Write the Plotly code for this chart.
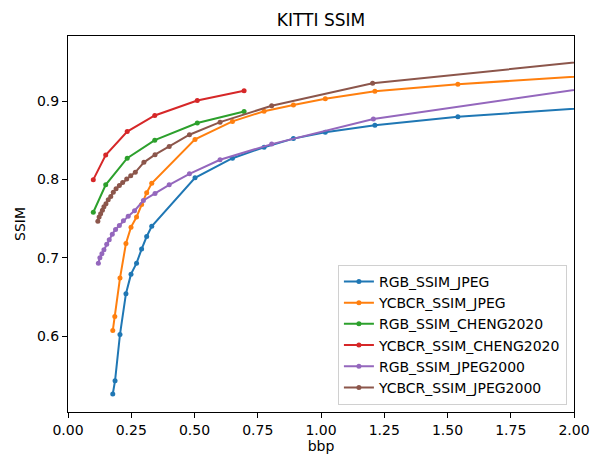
import plotly.graph_objects as go

# ---- data ----
rgb_jpeg_bbp = [0.177, 0.186, 0.2055, 0.229, 0.249, 0.271, 0.291, 0.311, 0.331, 0.502, 0.650, 0.775, 0.891, 1.017, 1.213, 1.541, 2.300]
rgb_jpeg_ssim = [0.526, 0.543, 0.602, 0.654, 0.679, 0.693, 0.711, 0.727, 0.740, 0.802, 0.827, 0.841, 0.852, 0.860, 0.869, 0.880, 0.8965]

ycbcr_jpeg_bbp = [0.177, 0.185, 0.2055, 0.229, 0.249, 0.271, 0.291, 0.311, 0.331, 0.502, 0.650, 0.775, 0.891, 1.017, 1.213, 1.541, 2.300]
ycbcr_jpeg_ssim = [0.607, 0.625, 0.674, 0.718, 0.739, 0.752, 0.768, 0.783, 0.795, 0.851, 0.874, 0.8870, 0.895, 0.903, 0.9126, 0.9215, 0.937]

rgb_cheng_bbp = [0.100, 0.149, 0.234, 0.343, 0.511, 0.696]
rgb_cheng_ssim = [0.758, 0.793, 0.827, 0.850, 0.872, 0.8866]

ycbcr_cheng_bbp = [0.100, 0.149, 0.234, 0.343, 0.511, 0.696]
ycbcr_cheng_ssim = [0.7996, 0.831, 0.861, 0.8815, 0.9006, 0.913]

rgb_j2k_bbp = [0.120, 0.126, 0.134, 0.142, 0.153, 0.163, 0.175, 0.188, 0.203, 0.219, 0.238, 0.263, 0.298, 0.344, 0.400, 0.480, 0.601, 0.805, 1.207, 2.400]
rgb_j2k_ssim = [0.693, 0.700, 0.705, 0.710, 0.717, 0.723, 0.730, 0.736, 0.741, 0.747, 0.753, 0.760, 0.773, 0.782, 0.793, 0.807, 0.825, 0.845, 0.877, 0.9327]

ycbcr_j2k_bbp = [0.118, 0.123, 0.129, 0.136, 0.142, 0.150, 0.159, 0.169, 0.179, 0.190, 0.203, 0.216, 0.232, 0.248, 0.266, 0.300, 0.344, 0.400, 0.480, 0.601, 0.805, 1.204, 2.400]
ycbcr_j2k_ssim = [0.7465, 0.752, 0.756, 0.7605, 0.765, 0.769, 0.774, 0.778, 0.7834, 0.788, 0.792, 0.796, 0.8005, 0.8047, 0.809, 0.8217, 0.8315, 0.842, 0.857, 0.873, 0.894, 0.9228, 0.9622]

series_names = ["RGB_SSIM_JPEG", "YCBCR_SSIM_JPEG", "RGB_SSIM_CHENG2020",
                "YCBCR_SSIM_CHENG2020", "RGB_SSIM_JPEG2000", "YCBCR_SSIM_JPEG2000"]
colors = ["#1f77b4", "#ff7f0e", "#2ca02c", "#d62728", "#9467bd", "#8c564b"]

x_ticks = [0.0, 0.25, 0.5, 0.75, 1.0, 1.25, 1.5, 1.75, 2.0]
x_tick_labels = ["0.00", "0.25", "0.50", "0.75", "1.00", "1.25", "1.50", "1.75", "2.00"]
y_ticks = [0.6, 0.7, 0.8, 0.9]
y_tick_labels = ["0.6", "0.7", "0.8", "0.9"]

series = [
    (rgb_jpeg_bbp, rgb_jpeg_ssim),
    (ycbcr_jpeg_bbp, ycbcr_jpeg_ssim),
    (rgb_cheng_bbp, rgb_cheng_ssim),
    (ycbcr_cheng_bbp, ycbcr_cheng_ssim),
    (rgb_j2k_bbp, rgb_j2k_ssim),
    (ycbcr_j2k_bbp, ycbcr_j2k_ssim),
]

FONT = "DejaVu Sans"

fig = go.Figure()
for i, ((xs, ys), name, c) in enumerate(zip(series, series_names, colors)):
    fig.add_trace(go.Scatter(
        x=xs, y=ys, name=name, mode="lines+markers",
        line=dict(color=c, width=2),
        marker=dict(color=c, size=5),
        legendgroup=f"g{i}",
    ))

fig.update_layout(
    width=597, height=457,
    margin=dict(l=68, r=23, t=36, b=45, autoexpand=False),
    plot_bgcolor="white", paper_bgcolor="white",
    font=dict(family=FONT, size=14, color="black"),
    title=dict(text="KITTI SSIM", x=321 / 597, xanchor="center",
               y=1 - 20 / 457, yanchor="middle", yref="container",
               font=dict(family=FONT, size=17, color="black")),
    showlegend=True,
    legend=dict(x=0.986, xanchor="right", y=0.019, yanchor="bottom",
                bgcolor="white", bordercolor="#d0d0d0", borderwidth=1,
                font=dict(family=FONT, size=14, color="black"),
                tracegroupgap=0, itemwidth=30),
)
fig.update_xaxes(
    range=[0, 2], tickvals=x_ticks, ticktext=x_tick_labels, automargin=False,
    showgrid=False, zeroline=False, showline=True, linecolor="black",
    linewidth=1, mirror=True, ticks="outside", ticklen=5, tickcolor="black",
    title=dict(text="bbp", standoff=4, font=dict(family=FONT, size=14)),
)
fig.update_yaxes(
    range=[0.503, 0.983], tickvals=y_ticks, ticktext=y_tick_labels, automargin=False,
    showgrid=False, zeroline=False, showline=True, linecolor="black",
    linewidth=1, mirror=True, ticks="outside", ticklen=5, tickcolor="black",
    title=dict(text="SSIM", standoff=8, font=dict(family=FONT, size=14)),
)

fig.write_html(
    "out.html",
    config={"displayModeBar": False},
    post_script="document.body.style.margin='0';document.body.style.padding='0';",
)
